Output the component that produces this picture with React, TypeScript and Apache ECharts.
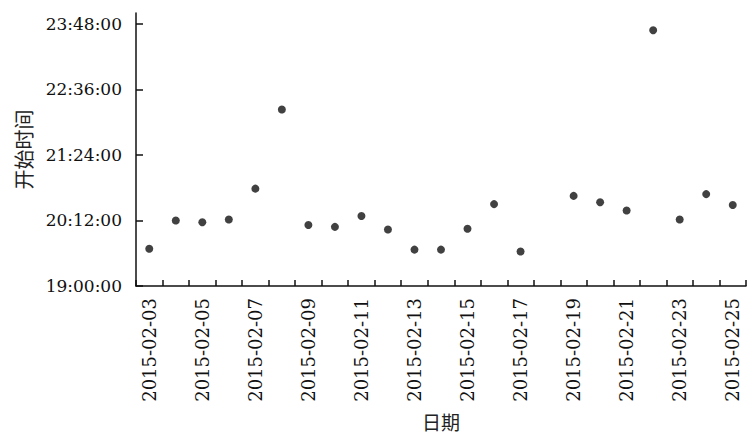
import React, { useEffect, useRef } from "react";
import * as echarts from "echarts";

const dates = [
  "2015-02-03", "2015-02-04", "2015-02-05", "2015-02-06", "2015-02-07", "2015-02-08",
  "2015-02-09", "2015-02-10", "2015-02-11", "2015-02-12", "2015-02-13", "2015-02-14",
  "2015-02-15", "2015-02-16", "2015-02-17", "2015-02-18", "2015-02-19", "2015-02-20",
  "2015-02-21", "2015-02-22", "2015-02-23", "2015-02-24", "2015-02-25",
];

const startTimes: (string | null)[] = [
  "19:41", "20:12", "20:10", "20:13", "20:47", "22:14",
  "20:07", "20:05", "20:17", "20:02", "19:40", "19:40",
  "20:03", "20:30", "19:38", null, "20:39", "20:32",
  "20:23", "23:41", "20:13", "20:41", "20:29",
];

const yTickLabels = ["19:00:00", "20:12:00", "21:24:00", "22:36:00", "23:48:00"];

const BASE_MIN = 19 * 60;
const toMin = (s: string) => {
  const [h, m] = s.split(":").map(Number);
  return h * 60 + m - BASE_MIN;
};
const fmt = (v: number) => {
  const t = Math.round(v + BASE_MIN);
  const h = Math.floor(t / 60);
  const m = t % 60;
  return `${String(h).padStart(2, "0")}:${String(m).padStart(2, "0")}:00`;
};

const serif = "DejaVu Serif";
const cjk = "Noto Sans CJK SC";

export default function App() {
  const ref = useRef<HTMLDivElement>(null);
  useEffect(() => {
    if (!ref.current) return;
    const chart = echarts.init(ref.current, undefined, { renderer: "svg" });
    const tickVals = yTickLabels.map(toMin);
    chart.setOption({
      animation: false,
      backgroundColor: "#ffffff",
      grid: { left: 136, right: 8, top: 13, bottom: 151, containLabel: false, outerBoundsMode: "none" },
      xAxis: {
        type: "category",
        data: dates,
        boundaryGap: true,
        name: "日期",
        nameLocation: "middle",
        nameGap: 126,
        nameTextStyle: { fontFamily: cjk, fontSize: 19, color: "#222" },
        axisLine: { lineStyle: { color: "#111", width: 1.5 } },
        axisTick: { show: true, inside: true, length: 6, alignWithLabel: false, interval: 0, lineStyle: { color: "#111", width: 1.5 } },
        axisLabel: { interval: 1, rotate: 90, margin: 12, fontFamily: serif, fontSize: 18, color: "#111" },
        splitLine: { show: false },
      },
      yAxis: {
        type: "value",
        min: 0,
        max: 300,
        name: "开始时间",
        nameLocation: "middle",
        nameGap: 103,
        nameRotate: 90,
        nameTextStyle: { fontFamily: cjk, fontSize: 20, color: "#222" },
        axisLine: { show: true, lineStyle: { color: "#111", width: 1.5 } },
        axisTick: { show: true, inside: true, length: 7, customValues: tickVals, lineStyle: { color: "#111", width: 1.5 } },
        axisLabel: { margin: 14, fontFamily: serif, fontSize: 17, color: "#111", customValues: tickVals, formatter: (v: number) => fmt(v) },
        splitLine: { show: false },
      },
      series: [
        {
          type: "scatter",
          symbol: "circle",
          symbolSize: 8,
          itemStyle: { color: "#111" },
          data: startTimes.map((t) => (t === null ? "-" : toMin(t))),
        },
      ],
    });
    return () => chart.dispose();
  }, []);
  return (
    <div
      ref={ref}
      style={{ position: "fixed", left: 0, top: 0, width: 754, height: 437, background: "#fff" }}
    />
  );
}
